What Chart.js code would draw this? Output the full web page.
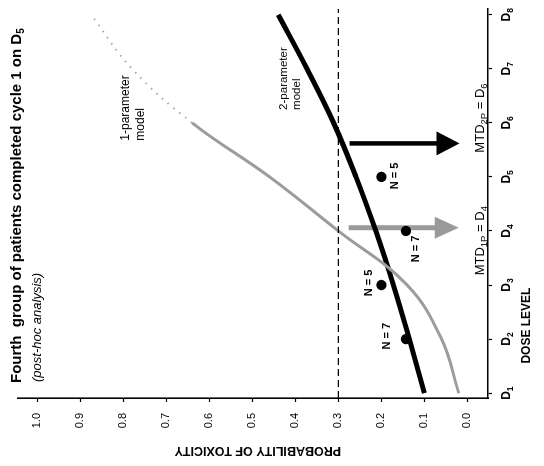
<!DOCTYPE html>
<html>
<head>
<meta charset="utf-8">
<script src="https://cdn.jsdelivr.net/npm/chart.js@4.4.1/dist/chart.umd.min.js"></script>
<style>
    html, body { margin: 0; padding: 0; background: #fff; overflow: hidden; }
    #page { position: relative; width: 544px; height: 466px; overflow: hidden; background: #fff; }
    /* the figure is printed turned a quarter turn, so the chart is drawn upright and rotated */
    #rot { position: absolute; left: 0; top: 0; width: 466px; height: 544px;
           transform-origin: 0 0; transform: translate(0px, 466px) rotate(-90deg); }
</style>
</head>
<body>
<div id="page"><div id="rot"><canvas id="myChart" width="466" height="544"></canvas></div></div>
<script>
// dose levels and labels
const doseLevels = [1, 2, 3, 4, 5, 6, 7, 8];
const doseLabels = ['1', '2', '3', '4', '5', '6', '7', '8'];
const doseMin = 0.91;
const doseMax = 8.11;

// probability axis
const probTicks = [0, 0.1, 0.2, 0.3, 0.4, 0.5, 0.6, 0.7, 0.8, 0.9, 1.0];
const probMin = -0.048;
const probMax = 1.046;

// model curves (read at each dose level)
const oneParamModel = [0.02, 0.06, 0.14, 0.30, 0.46, 0.64, 0.78, 0.875];
const twoParamModel = [0.10, 0.135, 0.172, 0.213, 0.259, 0.311, 0.373, 0.44];

// observed toxicity rates
const observedDose = [2, 3, 4, 5];
const observedTox = [0.143, 0.2, 0.143, 0.2];
const nPatients = [7, 5, 7, 5];

// target toxicity
const targetTox = 0.3;

// MTD arrows: 1-parameter, 2-parameter
const mtdArrowDose = [4.06, 5.62];
const mtdArrowFrom = [0.276, 0.274];
const mtdArrowTo = [0.02, 0.018];
const mtdLabelDose = [3.82, 6.09];
const mtdModel = ['1P', '2P'];
const mtdLevel = ['4', '6'];

// model labels
const modelLabelDose = [5.67, 6.24];
const modelLabelProb = [0.795, 0.428];
const modelLabelText = ['1-parameter', '2-parameter'];

const FONT = '"Liberation Sans", Arial, Helvetica, sans-serif';

function drawParts(ctx, parts, x, y, align) {
    let total = 0;
    parts.forEach(function (p) {
        ctx.font = p.font;
        p.w = ctx.measureText(p.text).width;
        total += p.w;
    });
    let cx = align === 'center' ? x - total / 2 : x;
    ctx.textAlign = 'left';
    ctx.textBaseline = 'alphabetic';
    parts.forEach(function (p) {
        ctx.font = p.font;
        ctx.fillText(p.text, cx, y + (p.dy || 0));
        cx += p.w;
    });
}

function downArrow(ctx, x, yTop, yTip, shaft, headLen, headHalf, color) {
    ctx.save();
    ctx.fillStyle = color;
    ctx.fillRect(x - shaft / 2, yTop, shaft, yTip - headLen - yTop + 1);
    ctx.beginPath();
    ctx.moveTo(x - headHalf, yTip - headLen);
    ctx.lineTo(x + headHalf, yTip - headLen);
    ctx.lineTo(x, yTip);
    ctx.closePath();
    ctx.fill();
    ctx.restore();
}

const overlay = {
    id: 'overlay',
    beforeDatasetsDraw(chart) {
        const ctx = chart.ctx;
        const xs = chart.scales.x;
        const ys = chart.scales.y;
        // gray arrow (1-parameter), black arrow (2-parameter)
        downArrow(ctx, xs.getPixelForValue(mtdArrowDose[0]), ys.getPixelForValue(mtdArrowFrom[0]),
            ys.getPixelForValue(mtdArrowTo[0]), 5, 24, 11, '#9a9a9a');
        downArrow(ctx, xs.getPixelForValue(mtdArrowDose[1]), ys.getPixelForValue(mtdArrowFrom[1]),
            ys.getPixelForValue(mtdArrowTo[1]), 4.5, 23, 12, '#000');
    },
    afterDraw(chart) {
        const ctx = chart.ctx;
        const xs = chart.scales.x;
        const ys = chart.scales.y;
        const area = chart.chartArea;
        ctx.save();
        ctx.fillStyle = '#000';

        // dose tick labels with subscripts
        for (let i = 0; i < doseLevels.length; i++) {
            drawParts(ctx, [
                { text: 'D', font: 'bold 12px ' + FONT },
                { text: doseLabels[i], font: 'bold 8.5px ' + FONT, dy: 3 }
            ], xs.getPixelForValue(doseLevels[i]), area.bottom + 22, 'center');
        }

        // title
        drawParts(ctx, [
            { text: 'Fourth  group of patients completed cycle 1 on D', font: 'bold 15px ' + FONT },
            { text: '5', font: 'bold 10px ' + FONT, dy: 3 }
        ], 83, 20.5, 'left');
        drawParts(ctx, [{ text: '(post-hoc analysis)', font: 'italic 13px ' + FONT }], 84, 41, 'left');

        // y axis title
        ctx.save();
        ctx.translate(15.5, (area.top + area.bottom) / 2 + 5);
        ctx.rotate(-Math.PI / 2);
        ctx.font = 'bold 12.5px ' + FONT;
        ctx.textAlign = 'center';
        ctx.textBaseline = 'middle';
        ctx.fillText('PROBABILITY OF TOXICITY', 0, 0);
        ctx.restore();

        // x axis title
        ctx.font = 'bold 12px ' + FONT;
        ctx.textAlign = 'center';
        ctx.textBaseline = 'middle';
        ctx.fillText('DOSE LEVEL', xs.getPixelForValue(2.25), area.bottom + 39);

        // N labels
        const offs = [[3, -19], [2, -12], [-18, 10], [1, 14]];
        ctx.font = 'bold 11px ' + FONT;
        for (let i = 0; i < observedDose.length; i++) {
            const px = xs.getPixelForValue(observedDose[i]) + offs[i][0];
            const py = ys.getPixelForValue(observedTox[i]) + offs[i][1];
            ctx.textAlign = 'center';
            ctx.textBaseline = 'middle';
            ctx.fillText('N = ' + nPatients[i], px, py);
        }

        // MTD labels
        for (let i = 0; i < mtdLabelDose.length; i++) {
            drawParts(ctx, [
                { text: 'MTD', font: '13px ' + FONT },
                { text: mtdModel[i], font: '9.5px ' + FONT, dy: 2.5 },
                { text: ' = D', font: '13px ' + FONT },
                { text: mtdLevel[i], font: '9.5px ' + FONT, dy: 2.5 }
            ], xs.getPixelForValue(mtdLabelDose[i]), ys.getPixelForValue(0) + 17, 'center');
        }

        // model labels
        for (let i = 0; i < modelLabelText.length; i++) {
            const px = xs.getPixelForValue(modelLabelDose[i]);
            const py = ys.getPixelForValue(modelLabelProb[i]);
            const size = i === 0 ? 12 : 11.5;
            ctx.font = size + 'px ' + FONT;
            ctx.textAlign = 'left';
            ctx.textBaseline = 'middle';
            ctx.fillText(modelLabelText[i], px, py);
            ctx.fillText('model', px, py + (i === 0 ? 15 : 13));
        }
        ctx.restore();
    }
};

const data = {
    datasets: [
        {
            label: 'target',
            data: [{ x: doseMin, y: targetTox }, { x: doseMax, y: targetTox }],
            borderColor: '#000',
            borderWidth: 1.3,
            borderDash: [7, 4],
            pointRadius: 0
        },
        {
            label: '1-parameter model',
            data: doseLevels.map(function (d, i) { return { x: d, y: oneParamModel[i] }; }),
            borderColor: '#9c9c9c',
            borderWidth: 3,
            tension: 0.4,
            pointRadius: 0,
            segment: {
                borderColor: function (c) { return c.p0.parsed.x >= 6 ? '#a8a8a8' : undefined; },
                borderDash: function (c) { return c.p0.parsed.x >= 6 ? [1.5, 6] : undefined; },
                borderWidth: function (c) { return c.p0.parsed.x >= 6 ? 2 : undefined; }
            }
        },
        {
            label: '2-parameter model',
            data: doseLevels.map(function (d, i) { return { x: d, y: twoParamModel[i] }; }),
            borderColor: '#000',
            borderWidth: 5,
            tension: 0.4,
            pointRadius: 0
        },
        {
            label: 'observed',
            data: observedDose.map(function (d, i) { return { x: d, y: observedTox[i] }; }),
            showLine: false,
            pointRadius: 5.2,
            pointBackgroundColor: '#000',
            pointBorderWidth: 0
        }
    ]
};

const config = {
    type: 'line',
    data: data,
    options: {
        responsive: false,
        animation: false,
        layout: { padding: { top: 12, right: 5, left: 0, bottom: 0 } },
        plugins: { legend: { display: false }, tooltip: { enabled: false } },
        scales: {
            x: {
                type: 'linear',
                min: doseMin,
                max: doseMax,
                afterFit: function (scale) { scale.height = 56; },
                afterBuildTicks: function (scale) {
                    scale.ticks = doseLevels.map(function (v) { return { value: v }; });
                },
                ticks: {
                    color: 'rgba(0,0,0,0)',
                    padding: 7,
                    maxRotation: 0,
                    font: { family: FONT, size: 12, weight: 'bold' },
                    callback: function (v) { return 'D' + doseLabels[doseLevels.indexOf(v)]; }
                },
                grid: { drawOnChartArea: false, drawTicks: true, tickLength: 4, tickColor: '#000', tickWidth: 1.2 },
                border: { display: true, color: '#000', width: 1.6 }
            },
            y: {
                type: 'linear',
                min: probMin,
                max: probMax,
                afterFit: function (scale) { scale.width = 68; },
                afterBuildTicks: function (scale) {
                    scale.ticks = probTicks.map(function (v) { return { value: v }; });
                },
                ticks: {
                    color: '#000',
                    padding: 11,
                    font: { family: FONT, size: 11 },
                    callback: function (v) { return v.toFixed(1); }
                },
                grid: { drawOnChartArea: false, drawTicks: true, tickLength: 4, tickColor: '#000', tickWidth: 1.2 },
                border: { display: true, color: '#000', width: 1.6 }
            }
        }
    },
    plugins: [overlay]
};

const myChart = new Chart(document.getElementById('myChart'), config);
</script>
</body>
</html>
